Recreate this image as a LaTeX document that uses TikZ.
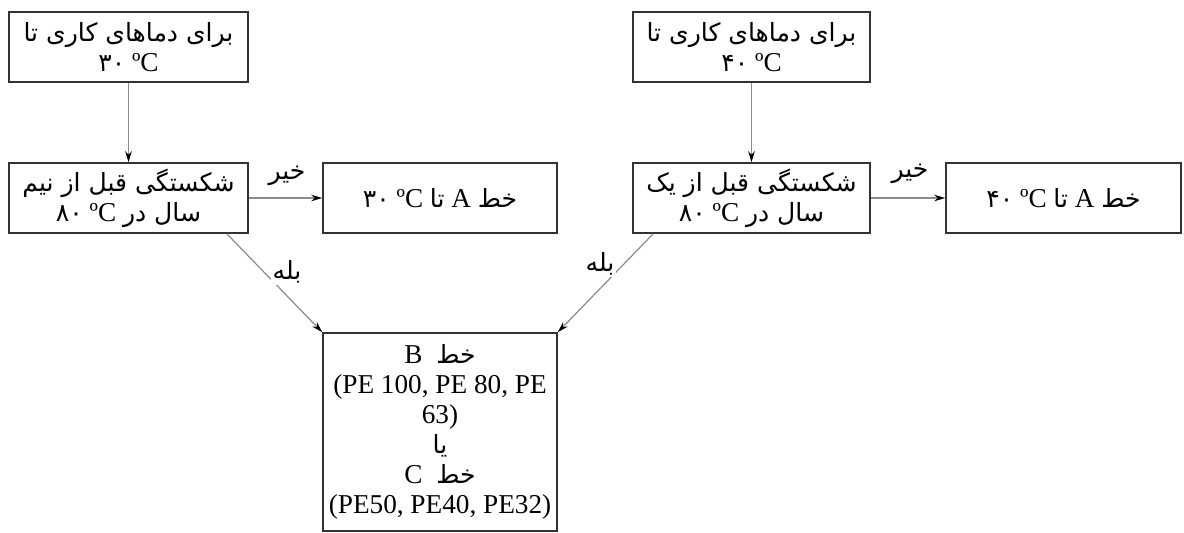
\documentclass[tikz,border=0pt]{standalone}
\usepackage{fontspec}
\setmainfont{Liberation Serif}
\newfontfamily\fa[Script=Arabic,Scale=0.92]{DejaVu Sans}
\TeXXeTstate=1
\usetikzlibrary{arrows.meta}
\tikzset{
	kadr/.style={draw=black!80, line width=0.9pt, minimum width=4.72cm, minimum height=1.4cm, align=center, inner sep=0pt, font=\fontsize{15.5}{17}\selectfont},
	peykan/.style={draw=black!45, line width=0.7pt, -{Stealth[length=2.2mm,width=1.3mm,color=black]}},
	barchasb/.style={fill=white, inner sep=1pt, font=\fontsize{15.5}{17}\selectfont\fa},
}

\begin{document}
\begin{tikzpicture}[x=0.02cm,y=-0.02cm]
	\useasboundingbox (0,0) rectangle (1184,532);
	\node[kadr, minimum width=4.78cm] (dama30) at (128.5,47) {{\fa\beginR برای دماهای کاری تا\endR}\\{\fa ۳۰}~ºC};
	\node[kadr, minimum width=4.74cm] (dama40) at (751.5,47) {{\fa\beginR برای دماهای کاری تا\endR}\\{\fa ۴۰}~ºC};
	\node[kadr, minimum width=4.78cm] (shek30) at (128.5,198) {{\fa\beginR شکستگی قبل از نیم\endR}\\{\fa ۸۰}~ºC~{\fa\beginR سال در\endR}};
	\node[kadr, minimum width=4.74cm] (shek40) at (751.5,198) {{\fa\beginR شکستگی قبل از یک\endR}\\{\fa ۸۰}~ºC~{\fa\beginR سال در\endR}};
	\node[kadr, minimum width=4.68cm] (khatA30) at (440,198) {{\fa ۳۰}~ºC~{\fa تا}~A~{\fa خط}};
	\node[kadr, minimum width=4.70cm] (khatA40) at (1063.5,198) {{\fa ۴۰}~ºC~{\fa تا}~A~{\fa خط}};
	\node[kadr, minimum width=4.68cm, minimum height=3.96cm] (khatBC) at (440,432) {B~~{\fa خط}\\(PE 100, PE 80, PE\\63)\\{\fa یا}\\C~~{\fa خط}\\(PE50, PE40, PE32)};
	\draw[peykan] (dama30) -- (shek30);
	\draw[peykan] (dama40) -- (shek40);
	\draw[peykan] (shek30) -- (khatA30);
	\draw[peykan] (shek40) -- (khatA40);
	\draw[peykan] (shek30.-20) -- (khatBC.north west);
	\draw[peykan] (shek40.-160) -- (khatBC.north east);
	\node[barchasb] (kheyr30) at (287,176) {خیر};
	\node[barchasb] (kheyr40) at (910,174) {خیر};
	\node[barchasb] (bale30) at (287,272) {بله};
	\node[barchasb] (bale40) at (600,264) {بله};
\end{tikzpicture}
\end{document}
